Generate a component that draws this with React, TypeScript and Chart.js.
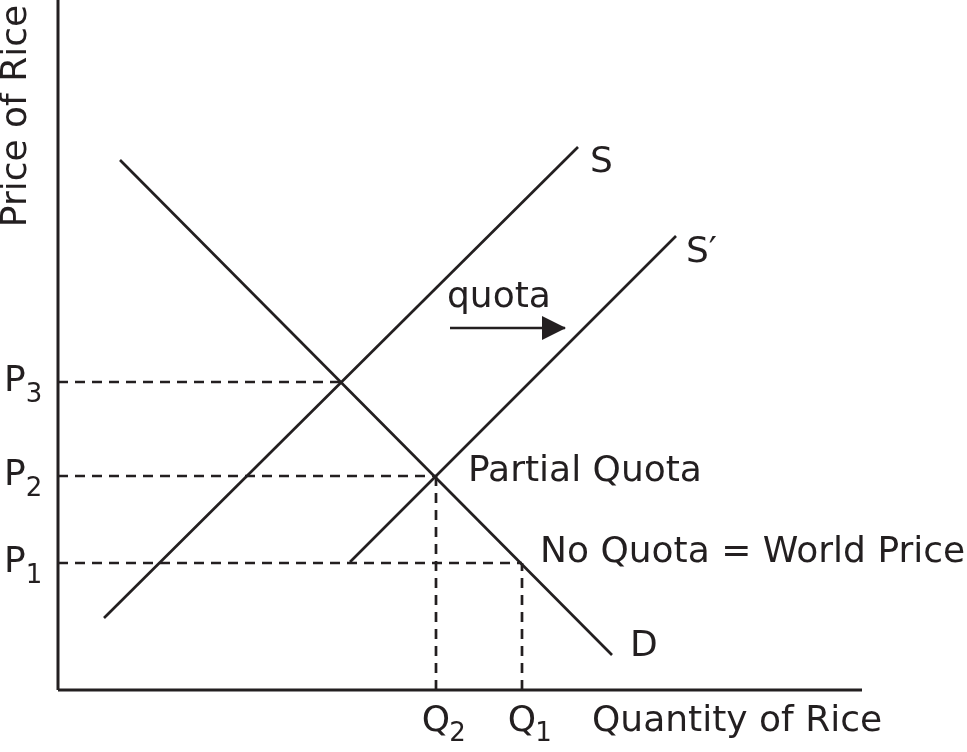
import React, { useEffect, useRef } from "react";
import { Chart, registerables } from "chart.js";
Chart.register(...registerables);

// Data coordinates: quantity (x) and price (y) in arbitrary units
const demand = [ { x: 6.2, y: 53.0 }, { x: 55.4, y: 3.5 } ];
const supply = [ { x: 4.6, y: 7.2 }, { x: 52.0, y: 54.3 } ];
const supplyQuota = [ { x: 29.2, y: 12.8 }, { x: 61.8, y: 45.4 } ];
const priceLevels = [12.7, 21.4, 30.8]; // P1, P2, P3
const priceEnds = [46.4, 37.8, 28.4]; // where dashed price lines end
const quantityLevels = [46.4, 37.8]; // Q1, Q2
const quantityTops = [12.7, 21.4];
const arrowLine = [ { x: 39.2, y: 36.2 }, { x: 50.7, y: 36.2 } ];
const axisY = [ { x: 0, y: 0 }, { x: 0, y: 69 } ];
const axisX = [ { x: 0, y: 0 }, { x: 80.4, y: 0 } ];

const priceLabels = ["P", "P", "P"];
const priceSubs = ["1", "2", "3"];
const qLabels = ["Q", "Q"];
const qSubs = ["1", "2"];

const textLabels = [
  { text: "S", x: 53.2, y: 52.7, align: "left" },
  { text: "S\u2032", x: 62.8, y: 43.7, align: "left" },
  { text: "quota", x: 38.9, y: 39.2, align: "left" },
  { text: "Partial Quota", x: 41.0, y: 21.8, align: "left" },
  { text: "No Quota = World Price", x: 48.2, y: 13.7, align: "left" },
  { text: "D", x: 57.2, y: 4.3, align: "left" },
  { text: "Quantity of Rice", x: 53.4, y: -3.2, align: "left" },
];

const FONT = "'DejaVu Sans', sans-serif";
const MAIN = 36;
const SUB = 26;

export default function App() {
  const ref = useRef<HTMLCanvasElement | null>(null);
  useEffect(() => {
    if (!ref.current) return;
    const black = "#231f20";
    const dashed = (pts: any[]) => ({
      data: pts,
      showLine: true,
      borderColor: black,
      borderWidth: 2.7,
      borderDash: [10, 7],
      pointRadius: 0,
      fill: false,
    });
    const solid = (pts: any[], w = 2.7) => ({
      data: pts,
      showLine: true,
      borderColor: black,
      borderWidth: w,
      pointRadius: 0,
      fill: false,
    });
    const datasets: any[] = [];
    priceLevels.forEach((p, i) => datasets.push(dashed([{ x: 0, y: p }, { x: priceEnds[i], y: p }])));
    quantityLevels.forEach((q, i) => datasets.push(dashed([{ x: q, y: 0 }, { x: q, y: quantityTops[i] }])));
    datasets.push(solid(demand));
    datasets.push(solid(supply));
    datasets.push(solid(supplyQuota));
    datasets.push({ ...solid(arrowLine, 2.7), arrow: true });
    datasets.push(solid(axisY, 3));
    datasets.push(solid(axisX, 3));

    const textPlugin = {
      id: "texts",
      afterDatasetsDraw(chart: any) {
        const { ctx, scales } = chart;
        const xs = scales.x, ys = scales.y;
        ctx.save();
        ctx.fillStyle = black;
        // arrowhead
        chart.data.datasets.forEach((ds: any) => {
          if (!ds.arrow) return;
          const a = ds.data[ds.data.length - 1];
          const px = xs.getPixelForValue(a.x), py = ys.getPixelForValue(a.y);
          ctx.beginPath();
          ctx.moveTo(px + 1, py);
          ctx.lineTo(px - 23, py - 12);
          ctx.lineTo(px - 23, py + 12);
          ctx.closePath();
          ctx.fill();
        });
        ctx.textBaseline = "middle";
        ctx.font = `${MAIN}px ${FONT}`;
        textLabels.forEach((t) => {
          ctx.textAlign = t.align;
          ctx.fillText(t.text, xs.getPixelForValue(t.x), ys.getPixelForValue(t.y));
        });
        // price labels
        priceLevels.forEach((p, i) => {
          const py = ys.getPixelForValue(p);
          ctx.textAlign = "left";
          ctx.font = `${MAIN}px ${FONT}`;
          ctx.fillText(priceLabels[i], 4, py);
          const w = ctx.measureText(priceLabels[i]).width;
          ctx.font = `${SUB}px ${FONT}`;
          ctx.fillText(priceSubs[i], 4 + w, py + 13);
        });
        qLabels.forEach((q, i) => {
          const px = xs.getPixelForValue(quantityLevels[i]);
          ctx.font = `${MAIN}px ${FONT}`;
          const w = ctx.measureText(q).width;
          const start = px - w / 2;
          const py = ys.getPixelForValue(-3.2);
          ctx.textAlign = "left";
          ctx.fillText(q, start, py);
          ctx.font = `${SUB}px ${FONT}`;
          ctx.fillText(qSubs[i], start + w - 1, py + 12);
        });
        // y axis title
        ctx.save();
        ctx.translate(17, ys.getPixelForValue(57.4));
        ctx.rotate(-Math.PI / 2);
        ctx.font = `${MAIN}px ${FONT}`;
        ctx.textAlign = "center";
        ctx.fillText("Price of Rice", 0, 0);
        ctx.restore();
        ctx.restore();
      },
    };

    const chart = new Chart(ref.current, {
      type: "scatter",
      data: { datasets },
      options: {
        animation: false,
        responsive: false,
        devicePixelRatio: 1,
        layout: { padding: 0 },
        plugins: { legend: { display: false }, tooltip: { enabled: false } },
        scales: {
          x: { type: "linear", min: -5.8, max: 90.9, display: false },
          y: { type: "linear", min: -6.2, max: 69, display: false },
        },
      },
      plugins: [textPlugin],
    } as any);
    return () => chart.destroy();
  }, []);
  return (
    <div style={{ position: "fixed", left: 0, top: 0, width: 967, height: 752, background: "#fff" }}>
      <canvas ref={ref} width={967} height={752} />
    </div>
  );
}
